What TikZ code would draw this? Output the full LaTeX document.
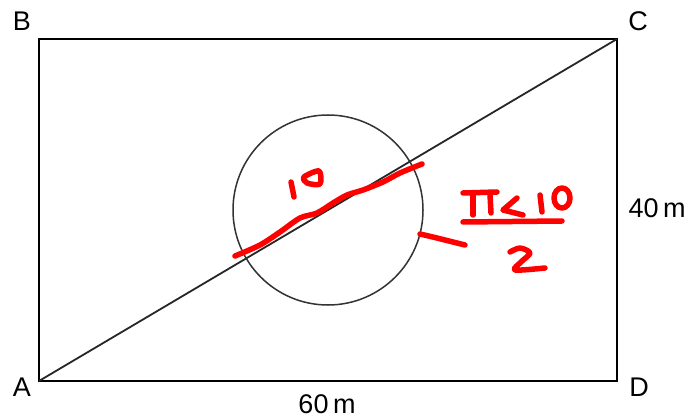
\documentclass[tikz,border=0pt]{standalone}
\usepackage{fontspec}
\setmainfont{Liberation Sans}
\begin{document}
\begin{tikzpicture}[x=1pt,y=-1pt,
  lbl/.style={font=\fontsize{27}{30}\selectfont, inner sep=0pt, text=black},
  edge/.style={line width=2pt, black},
  ink/.style={red, line width=5.5pt, line cap=round, line join=round}]
\useasboundingbox (0,0) rectangle (692,419);
\fill[white] (0,0) rectangle (692,419);
\coordinate (A) at (39,381);
\coordinate (B) at (39,39);
\coordinate (C) at (617,39);
\coordinate (D) at (617,381);
\draw[edge] (A) -- (B) -- (C) -- (D) -- cycle;
\draw[line width=1.8pt, black!85] (A) -- (C);
\node[circle, draw=black!80, line width=1.5pt, minimum size=190pt, inner sep=0pt] (O) at (328,210) {};
\node[lbl] (lA) at (22,387) {A};
\node[lbl] (lB) at (22,21) {B};
\node[lbl] (lC) at (638,21) {C};
\node[lbl] (lD) at (639,387) {D};
\node[lbl] (l60) at (327,404) {60\,m};
\node[lbl] (l40) at (657,208) {40\,m};
% red annotations
\draw[ink] plot[smooth] coordinates {(235,256) (260,245) (280,232) (300,218) (317,213) (333,203) (347,195) (363,190) (383,182) (400,173) (422,164)};
\draw[ink] (291,182) -- (294,197);
\draw[ink] plot[smooth cycle] coordinates {(304,177) (319,171) (320,184) (307,183)};
\draw[ink] plot[smooth] coordinates {(420,234) (437,238) (465,245)};
\draw[ink] (463,193) -- (497,192);
\draw[ink] (473,195) -- (473,215);
\draw[ink] (490,195) -- (491,213);
\draw[ink] (517,198) -- (503,210) -- (523,215);
\draw[ink] (540,195) -- (542,212);
\draw[ink] (562,198) ellipse[x radius=8, y radius=10];
\draw[ink] (463,222) -- (562,221);
\draw[ink] plot[smooth] coordinates {(510,252) (520,248) (530,253) (521,262) (515,270) (545,268)};
\end{tikzpicture}
\end{document}
